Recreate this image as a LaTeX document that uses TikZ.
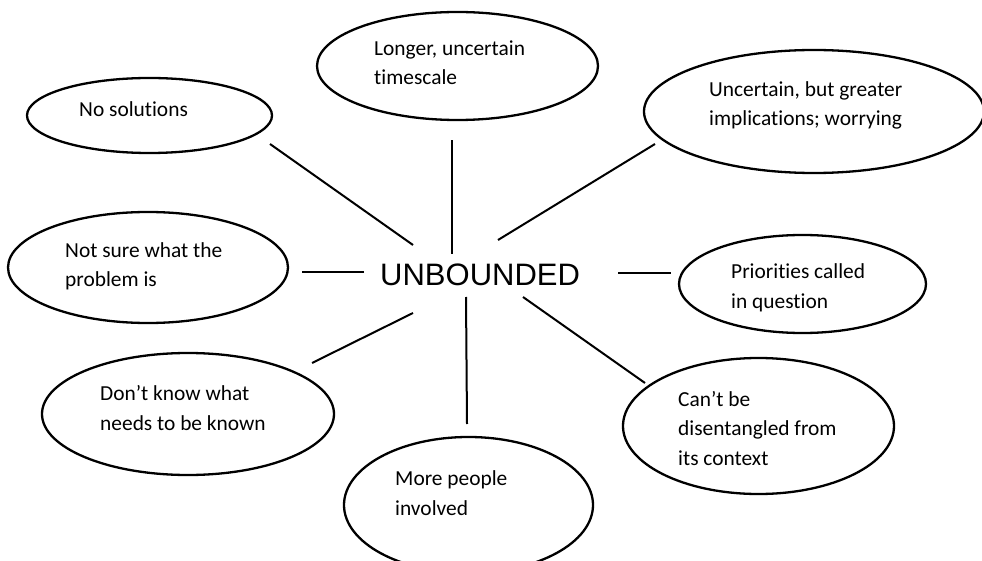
\documentclass[tikz,border=0pt]{standalone}
\usepackage{fontspec}
\setmainfont{Carlito}[Ligatures=NoCommon]
\newfontfamily\hubfont{Liberation Sans}
\usetikzlibrary{shapes.geometric}
\tikzset{
  bubble/.style={draw, ellipse, line width=2.3pt, inner sep=0pt},
  txt/.style={anchor=base west, inner sep=0pt, align=left,
    font=\fontsize{21.4}{29.5}\selectfont},
  spoke/.style={line width=2pt},
}
\begin{document}
\begin{tikzpicture}[x=1pt,y=-1pt]
      \useasboundingbox (0,0) rectangle (982,561);
      \draw
        (149.5,115.5) node[bubble, minimum width=245pt, minimum height=75pt] (nosol){}
        (457.5,66) node[bubble, minimum width=281pt, minimum height=108pt] (longer){}
        (814,111.5) node[bubble, minimum width=340pt, minimum height=123pt] (worry){}
        (148,267.5) node[bubble, minimum width=280pt, minimum height=111pt] (notsure){}
        (802.5,284) node[bubble, minimum width=247pt, minimum height=98pt] (prio){}
        (188,414) node[bubble, minimum width=292pt, minimum height=122pt] (dontknow){}
        (758.5,426) node[bubble, minimum width=271pt, minimum height=136pt] (cant){}
        (468.5,505) node[bubble, minimum width=249pt, minimum height=136pt] (more){};
      % base of a text is the baseline of its last line
      \path
        (79,117) node[txt] (tnosol){No solutions}
        (374,85) node[txt] (tlonger){Longer, uncertain\\timescale}
        (709,126) node[txt] (tworry){Uncertain, but greater\\implications; worrying}
        (65,287) node[txt] (tnotsure){Not sure what the\\problem is}
        (731,308) node[txt] (tprio){Priorities called\\in question}
        (100,430) node[txt] (tdontknow){Don’t know what\\needs to be known}
        (678,465) node[txt] (tcant){Can’t be\\disentangled from\\its context}
        (395,515) node[txt] (tmore){More people\\involved}
        (380,285) node[anchor=base west, inner sep=0pt,
          font=\hubfont\fontsize{31}{31}\selectfont] (hub){UNBOUNDED};
      \path
        (413,245) coordinate (h1) (270,144) coordinate (o1)
        (452,254) coordinate (h2) (452,140) coordinate (o2)
        (498,240) coordinate (h3) (655,144) coordinate (o3)
        (364,272) coordinate (h4) (302,272) coordinate (o4)
        (618,273) coordinate (h5) (671,273) coordinate (o5)
        (413,313) coordinate (h6) (312,363) coordinate (o6)
        (466,297) coordinate (h7) (467,424) coordinate (o7)
        (523,297) coordinate (h8) (645,383) coordinate (o8);
      \begin{scope}[spoke]
        \draw (h1) to (o1);
        \draw (h2) to (o2);
        \draw (h3) to (o3);
        \draw (h4) to (o4);
        \draw (h5) to (o5);
        \draw (h6) to (o6);
        \draw (h7) to (o7);
        \draw (h8) to (o8);
      \end{scope}
    \end{tikzpicture}
\end{document}
